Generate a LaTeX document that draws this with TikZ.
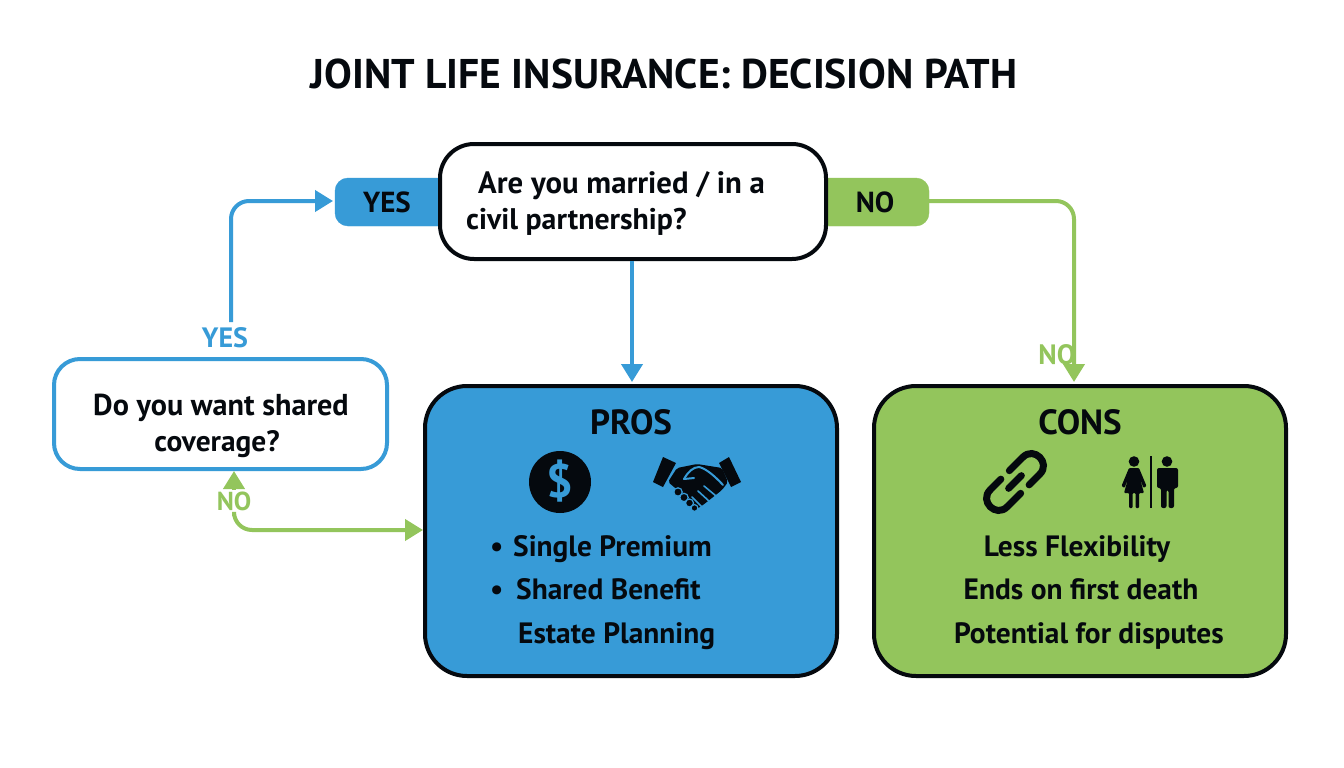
\documentclass[tikz,border=0pt]{standalone}
\usepackage{fontspec}
\setmainfont{PT Sans}
\usetikzlibrary{arrows.meta}
\definecolor{bluefill}{HTML}{379BD7}
\definecolor{greenfill}{HTML}{93C55C}
\definecolor{ink}{HTML}{05090E}
\tikzset{
  box/.style={draw,line width=4pt,rounded corners=#1,inner sep=0pt},
  lab/.style={font=\bfseries\fontsize{29.4}{34}\selectfont,text=ink,inner sep=0pt,anchor=base west},
  pill/.style={rounded corners=13pt,inner sep=0pt},
  pilltext/.style={font=\bfseries\fontsize{29}{34}\selectfont,text=ink,inner sep=0pt},
  sidelab/.style={font=\bfseries\fontsize{28}{34}\selectfont,inner sep=0pt},
  conn/.style={line width=4pt,rounded corners=18pt,-{Triangle[length=18pt,width=21pt]}},
  icon/.style={fill=ink,draw=none},
}
\begin{document}
\begin{tikzpicture}[x=1pt,y=-1pt]
\useasboundingbox (0,0) rectangle (1344,768);
\fill[white] (0,0) rectangle (1344,768);
\node[inner sep=0pt,text=ink,font=\bfseries\fontsize{41.5}{50}\selectfont] (title) at (664,74) {JOINT LIFE INSURANCE: DECISION PATH};
% pills
\filldraw[bluefill,pill] (335,178) rectangle (460,226);
\node[pilltext] (yespill) at (387,202) {YES};
\filldraw[greenfill,pill] (805,178) rectangle (929,226);
\node[pilltext] (nopill) at (875,202) {NO};
\coordinate (yesedge) at (333,201);
\coordinate (noedge) at (929,201);
% main boxes
\node[box=34pt,draw=ink,fill=white,minimum width=386pt,minimum height=115pt] (main) at (633,201.5) {};
\node[lab,font=\bfseries\fontsize{30.8}{34}\selectfont] (q1) at (478,193) {Are you married / in a};
\node[lab,font=\bfseries\fontsize{29.8}{34}\selectfont] (q2) at (466,229) {civil partnership?};
\node[box=26pt,draw=bluefill,fill=white,minimum width=333pt,minimum height=110pt] (shared) at (220.5,414) {};
\node[lab,anchor=base,font=\bfseries\fontsize{30.2}{34}\selectfont] (s1) at (221,415) {Do you want shared};
\node[lab,anchor=base] (s2) at (217,451) {coverage?};
\node[box=42pt,draw=ink,fill=bluefill,minimum width=412pt,minimum height=290pt] (pros) at (631,531) {};
\node[box=42pt,draw=ink,fill=greenfill,minimum width=412pt,minimum height=290pt] (cons) at (1080,531) {};
\node[inner sep=0pt,text=ink,font=\bfseries\fontsize{35}{40}\selectfont] (prost) at (631,422) {PROS};
\node[inner sep=0pt,text=ink,font=\bfseries\fontsize{35}{40}\selectfont] (const) at (1080,422) {CONS};
% pros text
\node[lab] (b1) at (490,556) {•};
\node[lab] (p1) at (513,556) {Single Premium};
\node[lab] (b2) at (490,599) {•};
\node[lab] (p2) at (516,599) {Shared Benefit};
\node[lab] (p3) at (518,643) {Estate Planning};
% cons text
\node[lab,anchor=base] (c1) at (1077,556) {Less Flexibility};
\node[lab,anchor=base] (c2) at (1081,599) {Ends on first death};
\node[lab,anchor=base] (c3) at (1089,643) {Potential for disputes};
% connectors
\coordinate (yesstart) at (231,322);
\coordinate (proshead) at (632,382);
\coordinate (conshead) at (1074,382);
\coordinate (nostart) at (234,516);
\coordinate (prosin) at (423,530);
\coordinate (noup) at (234,490);
\draw[conn,bluefill] (yesstart) |- (yesedge);
\draw[conn,bluefill,rounded corners=0pt] (main.south -| proshead) -- (proshead);
\draw[conn,greenfill] (noedge) -| (conshead);
\draw[conn,greenfill] (nostart) |- (prosin);
\draw[conn,greenfill,rounded corners=0pt] (noup) -- (noup |- shared.south);
\node[sidelab,text=bluefill] (yl) at (225,338) {YES};
\node[sidelab,text=greenfill] (nl) at (1057,355) {NO};
\node[sidelab,text=greenfill,font=\bfseries\fontsize{26}{30}\selectfont] (nl2) at (234,501) {NO};
% dollar icon
\fill[ink] (560,482) circle (31);
\node[inner sep=0pt,text=bluefill,font=\bfseries\fontsize{47}{50}\selectfont] (dollar) at (560,481) {\$};
% handshake
\fill[icon] (663,457) -- (676,463) -- (663,487) -- (653,482) -- cycle;
\fill[icon] (729,457) -- (741,482) -- (731,487) -- (719,463) -- cycle;
\fill[icon,rounded corners=2pt] (677,468) -- (697,464) -- (722,468) -- (728,482) -- (722,490) -- (703,505) -- (695,510) -- (680,492) -- (668,482) -- cycle;
\draw[bluefill,line width=2pt,line cap=round] (684,479) .. controls (688,472) and (693,467) .. (699,467) .. controls (704,468) and (712,473) .. (723,485);
\draw[bluefill,line width=2pt,line cap=round] (684,479) -- (694,478);
\draw[bluefill,line width=1.6pt,line cap=round] (704,486) -- (716,496) (698,491) -- (710,502) (692,497) -- (702,507);
\begin{scope}[draw=bluefill,fill=ink,line width=1.2pt]
\filldraw (678,492) circle (4.2);
\filldraw (684,497.5) circle (4.2);
\filldraw (689.5,503) circle (4);
\filldraw (694.5,508) circle (3.4);
\end{scope}
% chain
\begin{scope}[shift={(1015,482)},rotate=45,line width=7pt,line cap=round]
\draw[ink] (-4,12) -- (-23,12) .. controls (-39,12) and (-39,-12) .. (-23,-12) -- (-8,-12);
\draw[ink] (4,-12) -- (23,-12) .. controls (39,-12) and (39,12) .. (23,12) -- (8,12);
\draw[ink] (-9,0) -- (9,0);
\end{scope}
% people
\fill[ink] (1134,461.5) circle (5.3) (1167,461.5) circle (5.3);
\fill[icon,rounded corners=1pt] (1129,468) -- (1139,468) -- (1146.5,486) -- (1143.5,488) -- (1139.5,477) -- (1144,493) -- (1139,493) -- (1139,508) -- (1135.5,508) -- (1135.5,493) -- (1132.5,493) -- (1132.5,508) -- (1129,508) -- (1129,493) -- (1124,493) -- (1128.5,477) -- (1124.5,488) -- (1121.5,486) -- cycle;
\fill[ink] (1150,456) rectangle (1152,508);
\fill[icon,rounded corners=2pt] (1157,468) -- (1178,468) -- (1178,488) -- (1174,488) -- (1174,508) -- (1168.5,508) -- (1168.5,490) -- (1166.5,490) -- (1166.5,508) -- (1161,508) -- (1161,488) -- (1157,488) -- cycle;
\end{tikzpicture}
\end{document}
